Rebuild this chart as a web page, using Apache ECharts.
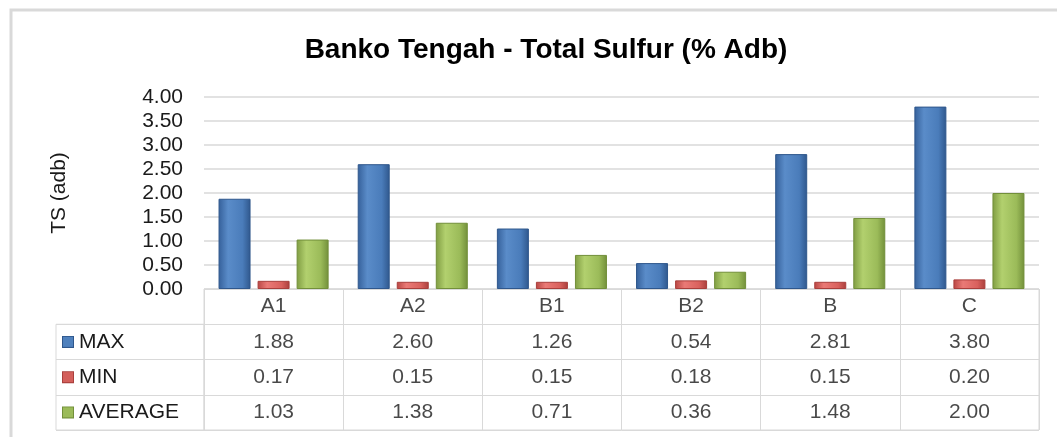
<!DOCTYPE html>
<html>
<head>
<meta charset="utf-8">
<title>Banko Tengah - Total Sulfur</title>
<script src="https://cdn.jsdelivr.net/npm/echarts@6/dist/echarts.min.js"></script>
<style>
  html, body { margin: 0; padding: 0; background: #fff; }
  #chart { width: 1057px; height: 437px; }
</style>
</head>
<body>
<div id="chart"></div>
<script>
// chart data
const categories = ['A1', 'A2', 'B1', 'B2', 'B', 'C']
const seriesNames = ['MAX', 'MIN', 'AVERAGE']
const maxValues = [1.88, 2.60, 1.26, 0.54, 2.81, 3.80]
const minValues = [0.17, 0.15, 0.15, 0.18, 0.15, 0.20]
const avgValues = [1.03, 1.38, 0.71, 0.36, 1.48, 2.00]
const yTicks = [0, 0.5, 1, 1.5, 2, 2.5, 3, 3.5, 4]

const values = [maxValues, minValues, avgValues]
const colors = ['#4f81bd', '#d35f5b', '#9bbb59']
const gradients = [
  ['#35609a', '#5a8cc9', '#4a7cba', '#2f578c'],
  ['#b84643', '#ea7a76', '#d9615d', '#a93f3c'],
  ['#7f9c42', '#b2d06e', '#9bbb59', '#728f3a']
]
const textColor = '#1a1a1a'
const lineColor = '#d9d9d9'
const font = 'Liberation Sans, Arial, sans-serif'

// layout of plot and data table
const plotLeft = 204
const plotRight = 18
const plotTop = 97
const tableTop = 289
const tableHeight = 141
const rowHeight = tableHeight / 4

function barColor(i) {
  const g = gradients[i]
  return new echarts.graphic.LinearGradient(0, 0, 1, 0, [
    { offset: 0, color: g[0] },
    { offset: 0.3, color: g[1] },
    { offset: 0.75, color: g[2] },
    { offset: 1, color: g[3] }
  ])
}

// table cells: header row with categories, then one row per series
const cellData = []
categories.forEach((c, i) => {
  cellData.push([i, 0, c])
  values.forEach((arr, s) => cellData.push([i, s + 1, arr[i].toFixed(2)]))
})

const rich = { t: { fontSize: 21, color: textColor, fontFamily: font, padding: [0, 0, 0, 6] } }
colors.forEach((c, i) => {
  rich['m' + i] = {
    width: 10, height: 10, backgroundColor: c,
    borderColor: gradients[i][3], borderWidth: 1
  }
})

const chart = echarts.init(document.getElementById('chart'))
chart.setOption({
  animation: false,
  textStyle: { fontFamily: font },
  title: {
    text: 'Banko Tengah - Total Sulfur (% Adb)',
    left: 541,
    textAlign: 'center',
    top: 31,
    textStyle: { fontSize: 28, fontWeight: 'bold', color: '#000', fontFamily: font }
  },
  graphic: [{
    type: 'rect',
    shape: { x: 11, y: 10, width: 1100, height: 500 },
    style: { fill: 'none', stroke: lineColor, lineWidth: 3 },
    silent: true
  }],
  grid: [
    { left: plotLeft, right: plotRight, top: plotTop, bottom: 437 - tableTop },
    {
      left: plotLeft, right: plotRight, top: tableTop, height: tableHeight,
      show: true, borderColor: lineColor, borderWidth: 1
    },
    {
      left: 56, width: plotLeft - 56, top: tableTop + rowHeight, height: tableHeight - rowHeight,
      show: true, borderColor: lineColor, borderWidth: 1
    }
  ],
  xAxis: [
    {
      gridIndex: 0, type: 'category', data: categories,
      axisLine: { show: false }, axisTick: { show: false }, axisLabel: { show: false }
    },
    {
      gridIndex: 1, type: 'category', data: categories,
      axisLine: { show: false }, axisTick: { show: false }, axisLabel: { show: false },
      splitLine: { show: true, lineStyle: { color: lineColor } }
    },
    {
      gridIndex: 2, type: 'category', data: [''],
      axisLine: { show: false }, axisTick: { show: false }, axisLabel: { show: false }
    }
  ],
  yAxis: [
    {
      gridIndex: 0, type: 'value', min: 0, max: 4, interval: 0.5,
      name: 'TS (adb)', nameLocation: 'middle', nameGap: 134,
      nameTextStyle: { fontSize: 21, color: textColor, fontFamily: font },
      axisLine: { show: false }, axisTick: { show: false },
      axisLabel: {
        fontSize: 21, color: textColor, margin: 21,
        formatter: v => (yTicks.indexOf(v) >= 0 ? v.toFixed(2) : '')
      },
      splitLine: { lineStyle: { color: lineColor, width: 1.5 } }
    },
    {
      gridIndex: 1, type: 'category', inverse: true, data: [''].concat(seriesNames),
      axisLine: { show: false }, axisTick: { show: false }, axisLabel: { show: false },
      splitLine: { show: true, lineStyle: { color: lineColor } }
    },
    {
      gridIndex: 2, type: 'category', inverse: true, data: seriesNames,
      axisLine: { show: false }, axisTick: { show: false },
      axisLabel: {
        inside: true, margin: 7,
        formatter: (v, i) => '{m' + i + '|}{t|' + v + '}',
        rich: rich
      },
      splitLine: { show: true, lineStyle: { color: lineColor } }
    }
  ],
  series: values.map((arr, i) => ({
    name: seriesNames[i],
    type: 'bar',
    xAxisIndex: 0,
    yAxisIndex: 0,
    data: arr,
    barWidth: 32,
    barGap: '22%',
    itemStyle: { color: barColor(i), borderColor: gradients[i][3], borderWidth: 1 }
  })).concat([{
    type: 'scatter',
    xAxisIndex: 1,
    yAxisIndex: 1,
    symbolSize: 0,
    data: cellData,
    label: {
      show: true, position: 'inside',
      fontSize: 21, color: textColor, fontFamily: font,
      formatter: p => p.value[2]
    }
  }])
})
</script>
</body>
</html>
